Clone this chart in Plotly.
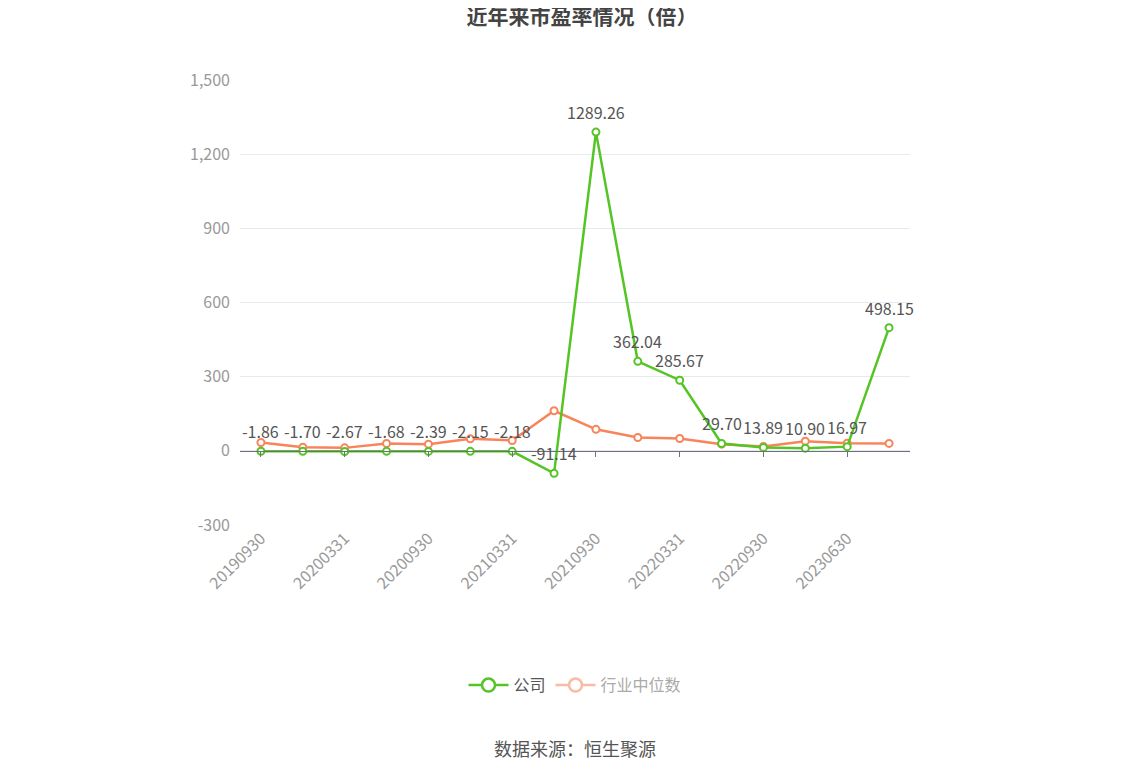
import plotly.graph_objects as go

# 报告期
periods = ["20190930", "20191231", "20200331", "20200630", "20200930", "20201231",
           "20210331", "20210630", "20210930", "20211231", "20220331", "20220630",
           "20220930", "20221231", "20230630", "20230930"]
# 公司市盈率
company_pe = [-1.86, -1.70, -2.67, -1.68, -2.39, -2.15, -2.18, -91.14,
              1289.26, 362.04, 285.67, 29.70, 13.89, 10.90, 16.97, 498.15]
# 行业中位数
industry_pe = [33.5, 15.0, 12.0, 30.0, 27.0, 48.5, 42.0, 162.0,
               87.0, 54.0, 50.0, 27.0, 17.5, 39.0, 31.0, 30.0]
y_ticks = [-300, 0, 300, 600, 900, 1200, 1500]

GREEN = "#55c425"
ORANGE = "#f8845a"
FONT = "Noto Sans CJK SC"

fig = go.Figure()

fig.add_trace(go.Scatter(
    x=periods, y=industry_pe, mode="lines+markers", name="行业中位数",
    line=dict(color=ORANGE, width=2.5),
    marker=dict(size=7, color="white", line=dict(color=ORANGE, width=2)),
    showlegend=False, hoverinfo="x+y"))

fig.add_trace(go.Scatter(
    x=periods, y=company_pe, mode="lines+markers", name="公司",
    line=dict(color=GREEN, width=2.5),
    marker=dict(size=7, color="white", line=dict(color=GREEN, width=2)),
    showlegend=False, hoverinfo="x+y"))

# 数据标签（类目轴按序号定位）
for i, v in enumerate(company_pe):
    fig.add_annotation(x=i, y=v, xref="x", yref="y", text=f"{v:.2f}", showarrow=False,
                       yshift=20, xanchor="center", yanchor="middle",
                       font=dict(family=FONT, size=16, color="#555"))

# 图例（仅图例用）
fig.add_trace(go.Scatter(
    x=[None], y=[None], mode="lines+markers", name="<span style='color:#555'>公司</span>",
    line=dict(color=GREEN, width=2.5),
    marker=dict(size=13, color="white", line=dict(color=GREEN, width=2.5))))
fig.add_trace(go.Scatter(
    x=[None], y=[None], mode="lines+markers", name="<span style='color:#aaa'>行业中位数</span>",
    line=dict(color="#f9bba3", width=2.5),
    marker=dict(size=13, color="white", line=dict(color="#f9bba3", width=2.5))))

# 零轴刻度线
fig.add_trace(go.Scatter(x=periods, y=[None] * len(periods), xaxis="x2",
                         showlegend=False, hoverinfo="skip"))

label_vals = periods[::2]
x_range = [-0.5, len(periods) - 0.5]

fig.update_layout(
    width=1148, height=776,
    margin=dict(l=232, r=246, t=72, b=259, autoexpand=False),
    paper_bgcolor="white", plot_bgcolor="white",
    font=dict(family=FONT, color="#555"),
    title=dict(text="<b>近年来市盈率情况（倍）</b>", x=0.5, xanchor="center",
               yref="container", y=1, yanchor="top", pad=dict(t=1),
               font=dict(family=FONT, size=21, color="#444")),
    xaxis=dict(type="category", range=x_range, showgrid=False, showline=False, ticks="",
               automargin=False, tickvals=label_vals, ticktext=label_vals, tickangle=-45,
               tickfont=dict(family=FONT, size=16, color="#999")),
    xaxis2=dict(type="category", overlaying="x", matches="x", anchor="free", position=1 / 6,
                side="bottom", showgrid=False, showline=True, linecolor="#6e7079", linewidth=1,
                ticks="outside", ticklen=5, tickcolor="#6e7079", tickvals=label_vals,
                showticklabels=False, automargin=False),
    yaxis=dict(range=[-300, 1500], tickvals=y_ticks, ticktext=[f"{v:,}" for v in y_ticks],
               showgrid=True, gridcolor="#e6e9f0", gridwidth=1, automargin=False,
               zeroline=False, showline=False, ticks="", ticklabelstandoff=9,
               tickfont=dict(family=FONT, size=16, color="#999")),
    legend=dict(orientation="h", x=0.5, xanchor="center", y=-0.36, yanchor="middle",
                font=dict(family=FONT, size=16), itemwidth=40),
)
fig.add_annotation(text="数据来源：恒生聚源", xref="paper", yref="paper", x=0.5, y=-0.50,
                   xanchor="center", yanchor="middle", showarrow=False,
                   font=dict(family=FONT, size=18, color="#555"))

fig.write_html("out.html")
